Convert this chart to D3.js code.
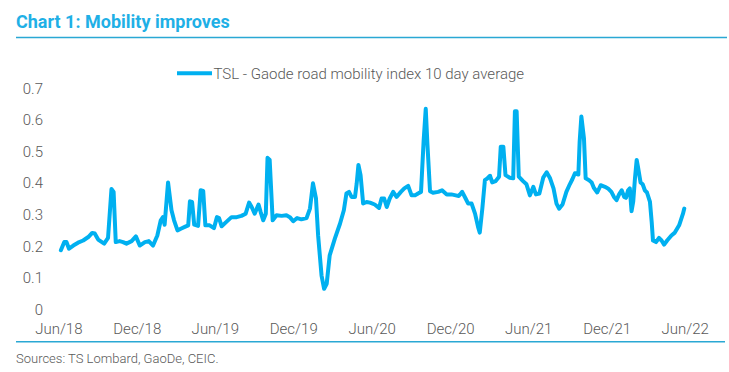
<!DOCTYPE html>
<html>
<head>
<meta charset="utf-8">
<script src="https://cdn.jsdelivr.net/npm/d3@7"></script>
<style>
  html, body { margin: 0; padding: 0; background: #fff; }
</style>
</head>
<body>
<div id="chart"></div>
<script>
// data (10 day average, turning points only)
const dates = [
  "2018-06-07","2018-06-15","2018-06-20","2018-06-26","2018-07-06","2018-07-17","2018-07-29","2018-08-10",
  "2018-08-19","2018-08-25","2018-09-02","2018-09-16","2018-09-25","2018-10-03","2018-10-08","2018-10-13",
  "2018-10-22","2018-10-30","2018-11-07","2018-11-19","2018-11-29","2018-12-08","2018-12-20","2018-12-29",
  "2019-01-08","2019-01-18","2019-01-26","2019-01-31","2019-02-04","2019-02-12","2019-02-20","2019-02-26",
  "2019-03-06","2019-03-15","2019-03-23","2019-03-31","2019-04-04","2019-04-09","2019-04-14","2019-04-23",
  "2019-04-29","2019-05-05","2019-05-10","2019-05-20","2019-05-30","2019-06-06","2019-06-11","2019-06-17",
  "2019-06-28","2019-07-10","2019-07-22","2019-08-02","2019-08-12","2019-08-20","2019-08-26","2019-09-02",
  "2019-09-11","2019-09-16","2019-09-22","2019-09-28","2019-10-02","2019-10-07","2019-10-14","2019-10-23",
  "2019-11-04","2019-11-15","2019-11-23","2019-12-01","2019-12-10","2019-12-20","2020-01-01","2020-01-09",
  "2020-01-16","2020-01-23","2020-01-28","2020-02-05","2020-02-11","2020-02-17","2020-02-24","2020-03-07",
  "2020-03-19","2020-03-28","2020-04-03","2020-04-09","2020-04-15","2020-04-23","2020-04-27","2020-05-01",
  "2020-05-06","2020-05-12","2020-05-20","2020-05-28","2020-06-08","2020-06-18","2020-06-24","2020-06-30",
  "2020-07-06","2020-07-13","2020-07-21","2020-07-29","2020-08-08","2020-08-16","2020-08-25","2020-09-02",
  "2020-09-10","2020-09-17","2020-09-24","2020-09-30","2020-10-05","2020-10-09","2020-10-15","2020-10-22",
  "2020-11-03","2020-11-12","2020-11-23","2020-12-04","2020-12-14","2020-12-21","2020-12-29","2021-01-06",
  "2021-01-12","2021-01-20","2021-01-28","2021-02-04","2021-02-08","2021-02-14","2021-02-20","2021-02-26",
  "2021-03-04","2021-03-09","2021-03-17","2021-03-25","2021-03-29","2021-04-04","2021-04-09","2021-04-19",
  "2021-04-27","2021-05-01","2021-05-05","2021-05-10","2021-05-20","2021-05-28","2021-06-05","2021-06-13",
  "2021-06-19","2021-06-27","2021-07-06","2021-07-14","2021-07-22","2021-07-30","2021-08-06","2021-08-12",
  "2021-08-20","2021-08-29","2021-09-06","2021-09-12","2021-09-18","2021-09-26","2021-09-29","2021-10-03",
  "2021-10-09","2021-10-13","2021-10-21","2021-10-27","2021-11-01","2021-11-09","2021-11-17","2021-11-27",
  "2021-12-04","2021-12-12","2021-12-18","2021-12-24","2021-12-30","2022-01-05","2022-01-11","2022-01-15",
  "2022-01-20","2022-01-24","2022-01-28","2022-02-01","2022-02-05","2022-02-09","2022-02-12","2022-02-18",
  "2022-02-23","2022-02-28","2022-03-05","2022-03-12","2022-03-16","2022-03-19","2022-03-26","2022-04-02",
  "2022-04-08","2022-04-14","2022-04-21","2022-05-01","2022-05-09","2022-05-19","2022-05-28","2022-05-31"
];
const mobility = [
  0.186,0.212,0.212,0.191,0.201,0.210,0.217,0.228,
  0.241,0.239,0.220,0.207,0.225,0.380,0.371,0.212,
  0.215,0.212,0.207,0.215,0.230,0.201,0.212,0.215,
  0.201,0.233,0.281,0.291,0.267,0.401,0.313,0.281,
  0.249,0.255,0.260,0.265,0.341,0.339,0.267,0.263,
  0.376,0.374,0.265,0.265,0.256,0.291,0.288,0.262,
  0.276,0.291,0.291,0.295,0.302,0.337,0.323,0.302,
  0.331,0.307,0.281,0.302,0.479,0.472,0.281,0.297,
  0.295,0.297,0.291,0.278,0.288,0.284,0.288,0.318,
  0.398,0.350,0.233,0.106,0.064,0.080,0.170,0.223,
  0.270,0.313,0.366,0.371,0.355,0.355,0.398,0.456,
  0.424,0.334,0.339,0.337,0.331,0.320,0.350,0.350,
  0.323,0.350,0.371,0.355,0.371,0.382,0.390,0.360,
  0.360,0.366,0.371,0.530,0.634,0.520,0.373,0.368,
  0.371,0.376,0.363,0.363,0.360,0.358,0.371,0.350,
  0.334,0.334,0.302,0.260,0.242,0.318,0.408,0.414,
  0.422,0.401,0.405,0.419,0.514,0.514,0.424,0.416,
  0.414,0.626,0.626,0.419,0.405,0.395,0.360,0.387,
  0.363,0.366,0.416,0.433,0.414,0.382,0.334,0.318,
  0.331,0.371,0.395,0.411,0.430,0.426,0.530,0.610,
  0.541,0.414,0.408,0.401,0.384,0.369,0.392,0.387,
  0.382,0.371,0.355,0.345,0.363,0.376,0.355,0.352,
  0.376,0.382,0.310,0.341,0.414,0.472,0.450,0.401,
  0.395,0.376,0.369,0.339,0.276,0.217,0.212,0.225,
  0.217,0.204,0.217,0.233,0.242,0.265,0.302,0.318
];
const xTickDates = ["2018-06-01","2018-12-01","2019-06-01","2019-12-01","2020-06-01",
                    "2020-12-01","2021-06-01","2021-12-01","2022-06-01"];
const xTickLabels = ["Jun/18","Dec/18","Jun/19","Dec/19","Jun/20","Dec/20","Jun/21","Dec/21","Jun/22"];
const yTicks = [0, 0.1, 0.2, 0.3, 0.4, 0.5, 0.6, 0.7];
const seriesName = "TSL - Gaode road mobility index 10 day average";
const titleText = "Chart 1: Mobility improves";
const sourceText = "Sources: TS Lombard, GaoDe, CEIC.";

function makeChart(containerSelector) {
    const width = 729, height = 372;
    const font = "Roboto, 'Noto Sans', Arial, sans-serif";
    const textColor = "#595959";
    const lineColor = "#00b0f0";
    const ruleColor = "#2aa8d4";

    const parse = d3.timeParse("%Y-%m-%d");
    const data = dates.map((d, i) => ({ date: parse(d), value: mobility[i] }));

    d3.select(containerSelector).html("");
    const svg = d3.select(containerSelector)
        .append("svg")
        .attr("width", width)
        .attr("height", height)
        .attr("viewBox", `0 0 ${width} ${height}`)
        .attr("xmlns", "http://www.w3.org/2000/svg");

    // 标题 + 分隔线
    svg.append("text")
        .attr("x", 16).attr("y", 28)
        .style("font-family", font).style("font-size", "18px").style("font-weight", "bold")
        .attr("fill", "#1fb0e6")
        .text(titleText);
    svg.append("line")
        .attr("x1", 16).attr("x2", 727).attr("y1", 37.5).attr("y2", 37.5)
        .attr("stroke", ruleColor).attr("stroke-width", 1.5);

    // 比例尺
    const x = d3.scaleTime()
        .domain([parse(xTickDates[0]), parse(xTickDates[xTickDates.length - 1])])
        .range([58.3, 684.7]);
    const y = d3.scaleLinear().domain([0, 0.7]).range([309, 88]);

    // y 轴 (labels only)
    const yAxis = svg.append("g")
        .attr("transform", "translate(43,0)")
        .call(d3.axisLeft(y).tickValues(yTicks).tickSize(0).tickPadding(0)
            .tickFormat(d => d === 0 ? "0" : d3.format(".1f")(d)));
    yAxis.select(".domain").remove();
    yAxis.selectAll("text")
        .attr("dy", "0.35em")
        .style("font-family", font).style("font-size", "15px").style("font-weight", 300)
        .attr("fill", textColor);

    // x 轴 (labels only)
    const xAxis = svg.append("g")
        .attr("transform", "translate(0,323)")
        .call(d3.axisBottom(x).tickValues(xTickDates.map(parse)).tickSize(0).tickPadding(0)
            .tickFormat((d, i) => xTickLabels[i]));
    xAxis.select(".domain").remove();
    xAxis.selectAll("text")
        .attr("dy", "0.71em")
        .style("font-family", font).style("font-size", "15px").style("font-weight", 300)
        .attr("fill", textColor);

    // 折线
    const line = d3.line().x(d => x(d.date)).y(d => y(d.value));
    svg.append("path")
        .datum(data)
        .attr("fill", "none")
        .attr("stroke", lineColor)
        .attr("stroke-width", 4)
        .attr("stroke-linejoin", "round")
        .attr("stroke-linecap", "round")
        .attr("d", line);

    // 图例
    const legend = svg.append("g").attr("transform", "translate(177,73.3)");
    legend.append("line")
        .attr("x1", 0).attr("x2", 35).attr("y1", 0).attr("y2", 0)
        .attr("stroke", lineColor).attr("stroke-width", 4);
    legend.append("text")
        .attr("x", 36.5).attr("y", 0).attr("dy", "0.35em")
        .style("font-family", font).style("font-size", "15px").style("font-weight", 300)
        .attr("fill", textColor)
        .text(seriesName);

    // 底部分隔线 + 来源
    svg.append("line")
        .attr("x1", 16).attr("x2", 725).attr("y1", 341.7).attr("y2", 341.7)
        .attr("stroke", ruleColor).attr("stroke-width", 1.5);
    svg.append("text")
        .attr("x", 16).attr("y", 363)
        .style("font-family", font).style("font-size", "13px").style("font-weight", 300)
        .attr("fill", textColor)
        .text(sourceText);

    return svg.node();
}

makeChart("#chart");
</script>
</body>
</html>
